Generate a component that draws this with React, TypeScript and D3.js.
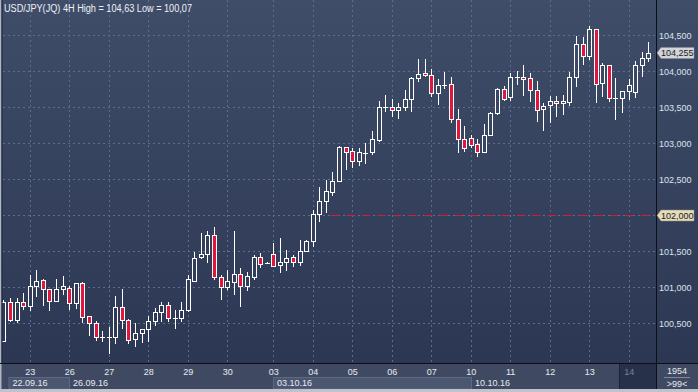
import React from 'react';
import * as d3 from 'd3';

// ---- data (USD/JPY 4H candles) ----
const opens = [100.258,100.791,100.546,100.796,100.744,101.018,101.101,100.972,100.814,100.972,
100.986,100.778,101.055,100.601,100.500,100.314,100.314,100.314,100.722,100.546,
100.278,100.361,100.416,100.536,100.653,100.750,100.578,100.569,100.684,101.091,
101.416,101.458,101.726,101.139,101.008,101.078,101.184,101.022,101.147,101.416,
101.333,101.462,101.305,101.347,101.416,101.347,101.508,101.639,102.014,102.198,
102.328,102.476,102.944,102.893,102.758,102.869,102.875,103.046,103.500,103.500,
103.462,103.500,103.611,103.903,103.972,103.944,103.694,103.809,103.819,103.344,
103.055,103.069,102.986,102.883,103.111,103.416,103.750,103.647,103.925,103.925,
103.903,103.736,103.472,103.528,103.583,103.555,103.578,103.916,104.375,104.216,
104.583,103.833,104.087,103.625,103.625,103.726,103.708,104.087,104.180];
const highs = [100.823,100.851,100.851,100.921,101.171,101.240,101.115,100.976,101.115,101.157,
101.018,101.059,101.073,100.601,100.536,100.397,100.453,100.879,100.976,100.559,
100.508,100.421,100.605,100.708,100.800,100.791,100.684,100.800,101.171,101.494,
101.750,101.786,101.841,101.171,101.240,101.786,101.264,101.216,101.448,101.472,
101.347,101.619,101.689,101.518,101.448,101.657,101.650,102.073,102.397,102.490,
102.605,102.962,102.953,102.930,102.930,103.000,103.171,103.591,103.671,103.611,
103.564,103.740,103.925,104.171,104.171,104.032,103.893,103.986,103.916,103.472,
103.240,103.111,103.059,103.268,103.439,103.764,103.796,103.972,104.008,104.087,
103.972,103.865,103.555,103.657,103.657,103.671,103.994,104.494,104.480,104.630,
104.590,104.111,104.090,103.903,103.726,103.889,104.143,104.272,104.403];
const lows = [100.240,100.518,100.508,100.684,100.671,100.869,100.744,100.675,100.809,100.893,
100.684,100.694,100.500,100.323,100.258,100.244,100.070,100.208,100.421,100.212,
100.175,100.222,100.244,100.466,100.514,100.522,100.421,100.518,100.657,101.078,
101.389,101.341,101.101,100.823,100.962,100.893,100.722,100.953,101.101,101.264,
101.319,101.286,101.203,101.230,101.286,101.300,101.497,101.564,101.911,102.028,
102.272,102.466,102.629,102.653,102.689,102.712,102.837,103.022,103.439,103.369,
103.337,103.453,103.439,103.847,103.916,103.647,103.532,103.750,103.278,102.861,
102.883,102.939,102.805,102.861,103.101,103.393,103.591,103.587,103.809,103.657,
103.578,103.300,103.175,103.286,103.369,103.393,103.522,103.786,104.087,104.157,
103.555,103.647,103.578,103.323,103.425,103.601,103.625,103.925,104.133];
const closes = [100.791,100.546,100.796,100.744,101.018,101.083,100.972,100.814,100.976,101.014,
100.778,101.055,100.583,100.500,100.314,100.314,100.314,100.722,100.546,100.268,
100.361,100.416,100.536,100.653,100.750,100.569,100.578,100.684,101.115,101.403,
101.458,101.726,101.139,101.008,101.087,101.184,101.022,101.157,101.416,101.328,
101.333,101.300,101.347,101.403,101.347,101.508,101.639,102.014,102.198,102.337,
102.476,102.944,102.883,102.758,102.875,102.869,103.055,103.500,103.500,103.462,
103.500,103.611,103.903,103.958,103.944,103.694,103.805,103.809,103.344,103.055,
102.928,102.972,102.883,103.111,103.416,103.750,103.611,103.925,103.925,103.889,
103.736,103.458,103.514,103.583,103.555,103.583,103.916,104.375,104.216,104.583,
103.819,104.087,103.625,103.625,103.726,103.809,104.087,104.180,104.255];

const dayLabels = ['23','26','27','28','29','30','03','04','05','06','07','10','11','12','13','14'];
const dayIndex = [4,10,16,22,28,34,41,47,53,59,65,71,77,83,89,95];
const weekLabels = ['22.09.16','26.09.16','03.10.16','10.10.16'];
const weekStart = [1,10,41,71];
const yTicks = [100.5,101,101.5,102,102.5,103,103.5,104,104.5];
const lastPrice = 104.255;
const alertLevel = 102.0;
const title = 'USD/JPY(JQ) 4H High = 104,63 Low = 100,07';
const panelTop = '1954';
const panelBottom = '>99<';

const W = 698, H = 392;
const PLOT_R = 656, PLOT_B = 363;
const FONT = '"Liberation Sans", Arial, sans-serif';

export default function App() {
  const x = d3.scaleLinear().domain([0, opens.length - 1]).range([3.4, 648.4]);
  const y = d3.scaleLinear().domain([100, 105]).range([359.3, -0.7]);
  const fmt = (v: number) => d3.format('.3f')(v).replace('.', ',');
  const px = (v: number) => Math.round(v) + 0.5;
  const red = '#e0173c';
  const yLast = y(lastPrice);
  const yAlert = y(alertLevel);

  return (
    <svg width={W} height={H} style={{ position: 'fixed', left: 0, top: 0, display: 'block' }} fontFamily={FONT}>
      <defs>
        <linearGradient id="bg" gradientUnits="userSpaceOnUse" x1="0" y1="0" x2="0" y2={PLOT_B}>
          <stop offset="0" stopColor="#3f4d69" />
          <stop offset="1" stopColor="#2c3753" />
        </linearGradient>
        <clipPath id="plotClip">
          <rect x={2} y={0} width={PLOT_R - 2} height={PLOT_B} />
        </clipPath>
      </defs>
      <rect x={0} y={0} width={W} height={PLOT_B} fill="url(#bg)" />
      {/* bottom axis strip */}
      <rect x={0} y={PLOT_B} width={W} height={H - PLOT_B} fill="#3f4a62" />

      {/* grid */}
      {yTicks.map((t) => (
        <line key={'h' + t} x1={3} x2={PLOT_R} y1={px(y(t))} y2={px(y(t))} stroke="#5c6d8e" strokeDasharray="2,3" />
      ))}
      {dayIndex.map((d) => (
        <line key={'v' + d} x1={px(x(d))} x2={px(x(d))} y1={0} y2={PLOT_B} stroke="#5c6d8e" strokeDasharray="2,3" />
      ))}

      {/* alert line */}
      <line x1={331} x2={PLOT_R} y1={px(yAlert)} y2={px(yAlert)} stroke="#d81a32" strokeDasharray="8,7.5" />

      {/* candles */}
      <g clipPath="url(#plotClip)">
        {opens.map((o, i) => {
          const c = closes[i];
          const cx = Math.round(x(i));
          const yH = y(highs[i]);
          const yL = y(lows[i]);
          const yO = y(o);
          const yC = y(c);
          const top = Math.round(Math.min(yO, yC));
          const bot = Math.round(Math.max(yO, yC));
          const up = c > o;
          const doji = Math.abs(c - o) < 0.004;
          return (
            <g key={i}>
              {yL - yH > 0.5 && (
                <line x1={cx + 0.5} x2={cx + 0.5} y1={Math.round(yH)} y2={Math.round(yL)} stroke="#ffffff" strokeWidth={1} />
              )}
              {doji ? (
                <line x1={cx - 2} x2={cx + 3} y1={top + 0.5} y2={top + 0.5} stroke="#ffffff" strokeWidth={1} />
              ) : (
                <rect x={cx - 1.5} y={top + 0.5} width={4} height={Math.max(bot - top, 1)}
                  fill={up ? 'url(#bg)' : red} stroke="#ffffff" strokeWidth={1} />
              )}
            </g>
          );
        })}
      </g>

      {/* title */}
      <text x={4} y={11.5} fontSize={10} fill="#eef1f6" textLength={188} lengthAdjust="spacingAndGlyphs">{title}</text>

      {/* frame lines */}
      <rect x={0} y={0} width={1.5} height={H} fill="#aeb6c4" />
      <line x1={2} x2={2} y1={0} y2={PLOT_B} stroke="#1c2438" strokeWidth={1} />
      <line x1={0} x2={W} y1={PLOT_B + 0.5} y2={PLOT_B + 0.5} stroke="#0c0f18" />
      <line x1={PLOT_R + 0.5} x2={PLOT_R + 0.5} y1={0} y2={389} stroke="#0c0f18" />

      {/* y axis labels */}
      {yTicks.filter((t) => Math.abs(t - alertLevel) > 1e-6).map((t) => (
        <text key={'yl' + t} x={659} y={y(t) + 3.3} fontSize={9} fill="#dde3ec">{fmt(t)}</text>
      ))}
      {/* alert level label */}
      <path d={`M${657},${px(yAlert)} L${661},${px(yAlert) - 5.5} L${694},${px(yAlert) - 5.5} L${694},${px(yAlert) + 5.5} L${661},${px(yAlert) + 5.5} Z`}
        fill="#e4dcba" stroke="#8d8a7a" strokeWidth={0.5} />
      <text x={661} y={yAlert + 3.5} fontSize={9} fill="#1b1b1b">{fmt(alertLevel)}</text>
      {/* last price label */}
      <path d={`M${657},${yLast} L${661},${yLast - 5.5} L${694},${yLast - 5.5} L${694},${yLast + 5.5} L${661},${yLast + 5.5} Z`}
        fill="#d2d5da" stroke="#8a8e96" strokeWidth={0.5} />
      <text x={661} y={yLast + 3.3} fontSize={9} fill="#1b1b1b">{fmt(lastPrice)}</text>

      {/* x axis: week boxes */}
      {weekLabels.map((w, k) => {
        const x0 = k === 0 ? 9 : px(x(weekStart[k]));
        const x1 = k < weekLabels.length - 1 ? px(x(weekStart[k + 1])) : 619;
        const light = k % 2 === 0;
        return (
          <g key={w}>
            {light && <rect x={x0} y={377.5} width={x1 - x0} height={11.5} fill="#4b5770" stroke="#5d6983" strokeWidth={1} />}
            <text x={x0 + 3.5} y={386} fontSize={9} fill="#e6eaf0">{w}</text>
          </g>
        );
      })}
      {/* current day cell */}
      <rect x={619.5} y={PLOT_B + 1} width={36.5} height={25} fill="#27314a" />
      <line x1={619.5} x2={619.5} y1={PLOT_B + 1} y2={389} stroke="#1d2436" />
      {dayLabels.map((d, k) => (
        <text key={'d' + k} x={x(dayIndex[k]) + 0.5} y={375} fontSize={9} textAnchor="middle"
          fill={k === dayLabels.length - 1 ? '#76839b' : '#e6eaf0'}>{d}</text>
      ))}

      {/* right bottom panel */}
      <text x={677} y={374} fontSize={9} textAnchor="middle" fill="#e6eaf0">{panelTop}</text>
      <line x1={664} x2={690} y1={377.5} y2={377.5} stroke="#8e98aa" strokeWidth={0.8} />
      <text x={677} y={387} fontSize={9} textAnchor="middle" fill="#e6eaf0">{panelBottom}</text>

      {/* bottom border */}
      <rect x={0} y={389} width={W} height={3} fill="#bfc4cc" />
    </svg>
  );
}
